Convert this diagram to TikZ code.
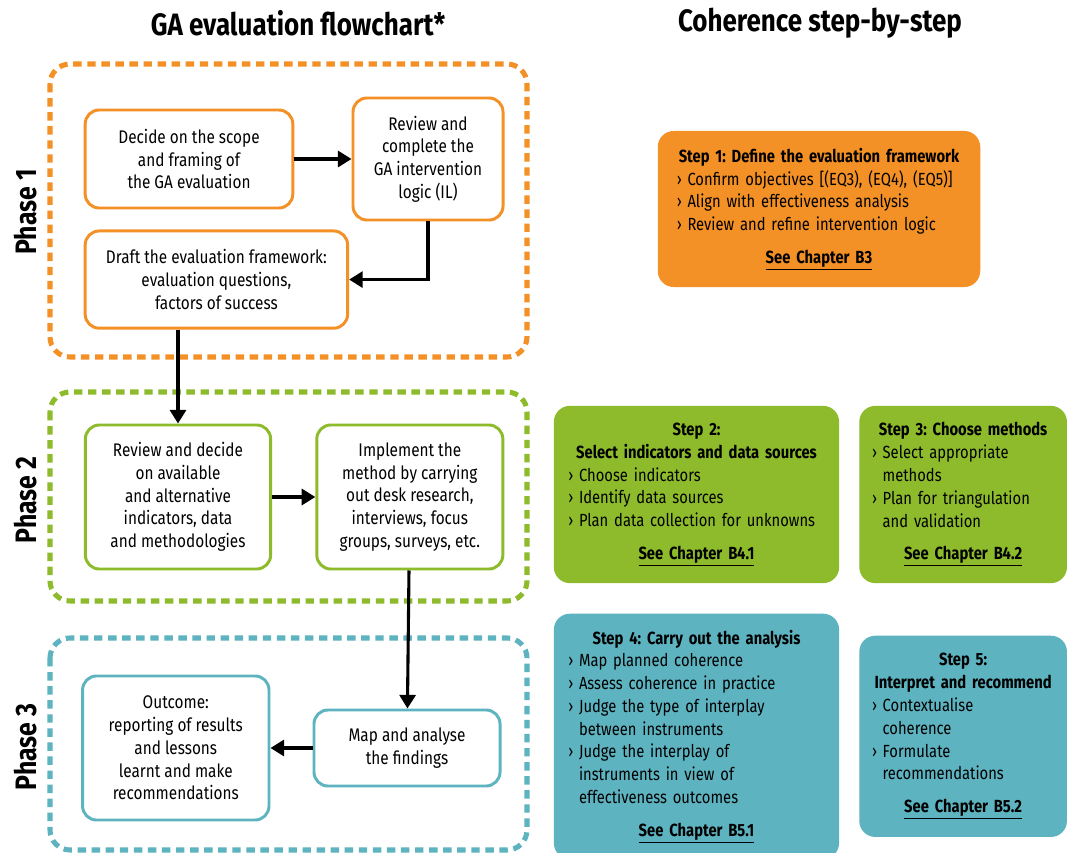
\documentclass[tikz,border=0pt]{standalone}
\usepackage{fontspec}
\setmainfont{Fira Sans}[FakeStretch=0.84]
\usepackage{xcolor}
\usetikzlibrary{arrows.meta, positioning}
\definecolor{gaorange}{HTML}{F39026}
\definecolor{gagreen}{HTML}{8DBB2C}
\definecolor{gateal}{HTML}{5DB3C0}
\frenchspacing
\hyphenpenalty=10000
\newcommand{\itm}[1]{\par\hangindent=0.6em\hangafter=1\noindent\makebox[0.6em][l]{›}#1}
\newcommand{\stephead}[1]{{\centering\bfseries #1\par}}
\newcommand{\seech}[1]{\par\vspace{7pt}{\centering\bfseries\underline{#1}\par}}

\begin{document}
\begin{tikzpicture}[x=0.025cm, y=-0.025cm,
    flow/.style={rectangle, rounded corners=0.35cm, draw=#1, line width=2.1pt,
                 fill=white, align=center, inner sep=2pt, font=\fontsize{13}{16.2}\selectfont},
    phase/.style={draw=#1, line width=3.6pt, dash pattern=on 6pt off 4pt, rounded corners=0.5cm},
    phaselabel/.style={rotate=90, font=\fontsize{21}{24}\selectfont\bfseries},
    headline/.style={font=\fontsize{22}{26}\selectfont\bfseries},
    stepbox/.style={rectangle, rounded corners=0.4cm, fill=#1, align=left, inner sep=0pt},
    arr/.style={-{Triangle[length=3.4mm, width=4mm]}, line width=2.2pt, black},
    font=\fontsize{12.5}{16.2}\selectfont
]
\useasboundingbox (0,0) rectangle (1067,853);
\fill[white] (0,0) rectangle (1067,853);

% titles
\node[headline] (lefttitle) at (298,23) {GA evaluation flowchart*};
\node[headline] (righttitle) at (820,23) {Coherence step-by-step};

% phase frames
\draw[phase=gaorange] (50,64) rectangle (527,357);
\draw[phase=gagreen] (50,392) rectangle (527,601);
\draw[phase=gateal] (50,638) rectangle (527,850);
\node[phaselabel] (p1) at (26,212) {Phase 1};
\node[phaselabel] (p2) at (26,500) {Phase 2};
\node[phaselabel] (p3) at (26,747) {Phase 3};

% phase 1
\node[flow=gaorange, minimum width=5.19cm, minimum height=2.45cm] (scope) at (189,159)
    {Decide on the scope\\and framing of\\the GA evaluation};
\node[flow=gaorange, minimum width=3.75cm, minimum height=3.05cm, right=1.43cm of scope] (logic)
    {Review and\\complete the\\GA intervention\\logic (IL)};
\node[flow=gaorange, minimum width=6.56cm, minimum height=2.43cm,
      below right=0.5cm and 0cm of scope.south west] (frame)
    {Draft the evaluation framework:\\evaluation questions,\\factors of success};

% phase 2
\node[flow=gagreen, minimum width=4.63cm, minimum height=3.6cm] (review) at (178,497)
    {Review and decide\\on available\\and alternative\\indicators, data\\and methodologies};
\node[flow=gagreen, minimum width=4.65cm, minimum height=3.6cm, right=1.08cm of review] (implement)
    {Implement the\\method by carrying\\out desk research,\\interviews, focus\\groups, surveys, etc.};

% phase 3
\node[flow=gateal, minimum width=4.65cm, minimum height=1.9cm] (findings) at (407,748)
    {Map and analyse\\the findings};
\node[flow=gateal, minimum width=4.66cm, minimum height=3.6cm, left=1.05cm of findings] (outcome)
    {Outcome:\\reporting of results\\and lessons\\learnt and make\\recommendations};

\draw[arr] (scope) -- (logic);
\draw[arr] (logic.south) |- (frame.east);
\draw[arr] (frame.south -| review.north) -- (review.north);
\draw[arr] (review) -- (implement);
\draw[arr] (implement) -- (findings);
\draw[arr] (findings) -- (outcome);

% coherence steps
\node[stepbox=gaorange, minimum width=8.06cm, minimum height=3.9cm, text width=7.1cm] (step1) at (819,209) {%
    \stephead{Step 1: Define the evaluation framework}
    \itm{Confirm objectives [(EQ3), (EQ4), (EQ5)]}
    \itm{Align with effectiveness analysis}
    \itm{Review and refine intervention logic}
    \seech{See Chapter B3}};
\node[stepbox=gagreen, minimum width=7.13cm, minimum height=4.43cm, text width=6.4cm] (step2) at (696.5,494.5) {%
    \stephead{Step 2:\\Select indicators and data sources}
    \itm{Choose indicators}
    \itm{Identify data sources}
    \itm{Plan data collection for unknowns}
    \seech{See Chapter B4.1}};
\node[stepbox=gagreen, minimum width=5.19cm, minimum height=4.43cm, text width=4.55cm, right=0.49cm of step2] (step3) {%
    \stephead{Step 3: Choose methods}
    \itm{Select appropriate\newline methods}
    \itm{Plan for triangulation\newline and validation}
    \seech{See Chapter B4.2}};
\node[stepbox=gateal, minimum width=7.13cm, minimum height=6.13cm, text width=6.4cm, below=0.75cm of step2] (step4) {%
    \stephead{Step 4: Carry out the analysis}
    \itm{Map planned coherence}
    \itm{Assess coherence in practice}
    \itm{Judge the type of interplay\newline between instruments}
    \itm{Judge the interplay of\newline instruments in view of\newline effectiveness outcomes}
    \seech{See Chapter B5.1}};
\node[stepbox=gateal, minimum width=5.19cm, minimum height=5.03cm, text width=4.55cm, right=0.49cm of step4] (step5) {%
    \stephead{Step 5:\\Interpret and recommend}
    \itm{Contextualise\newline coherence}
    \itm{Formulate\newline recommendations}
    \seech{See Chapter B5.2}};
\end{tikzpicture}
\end{document}
